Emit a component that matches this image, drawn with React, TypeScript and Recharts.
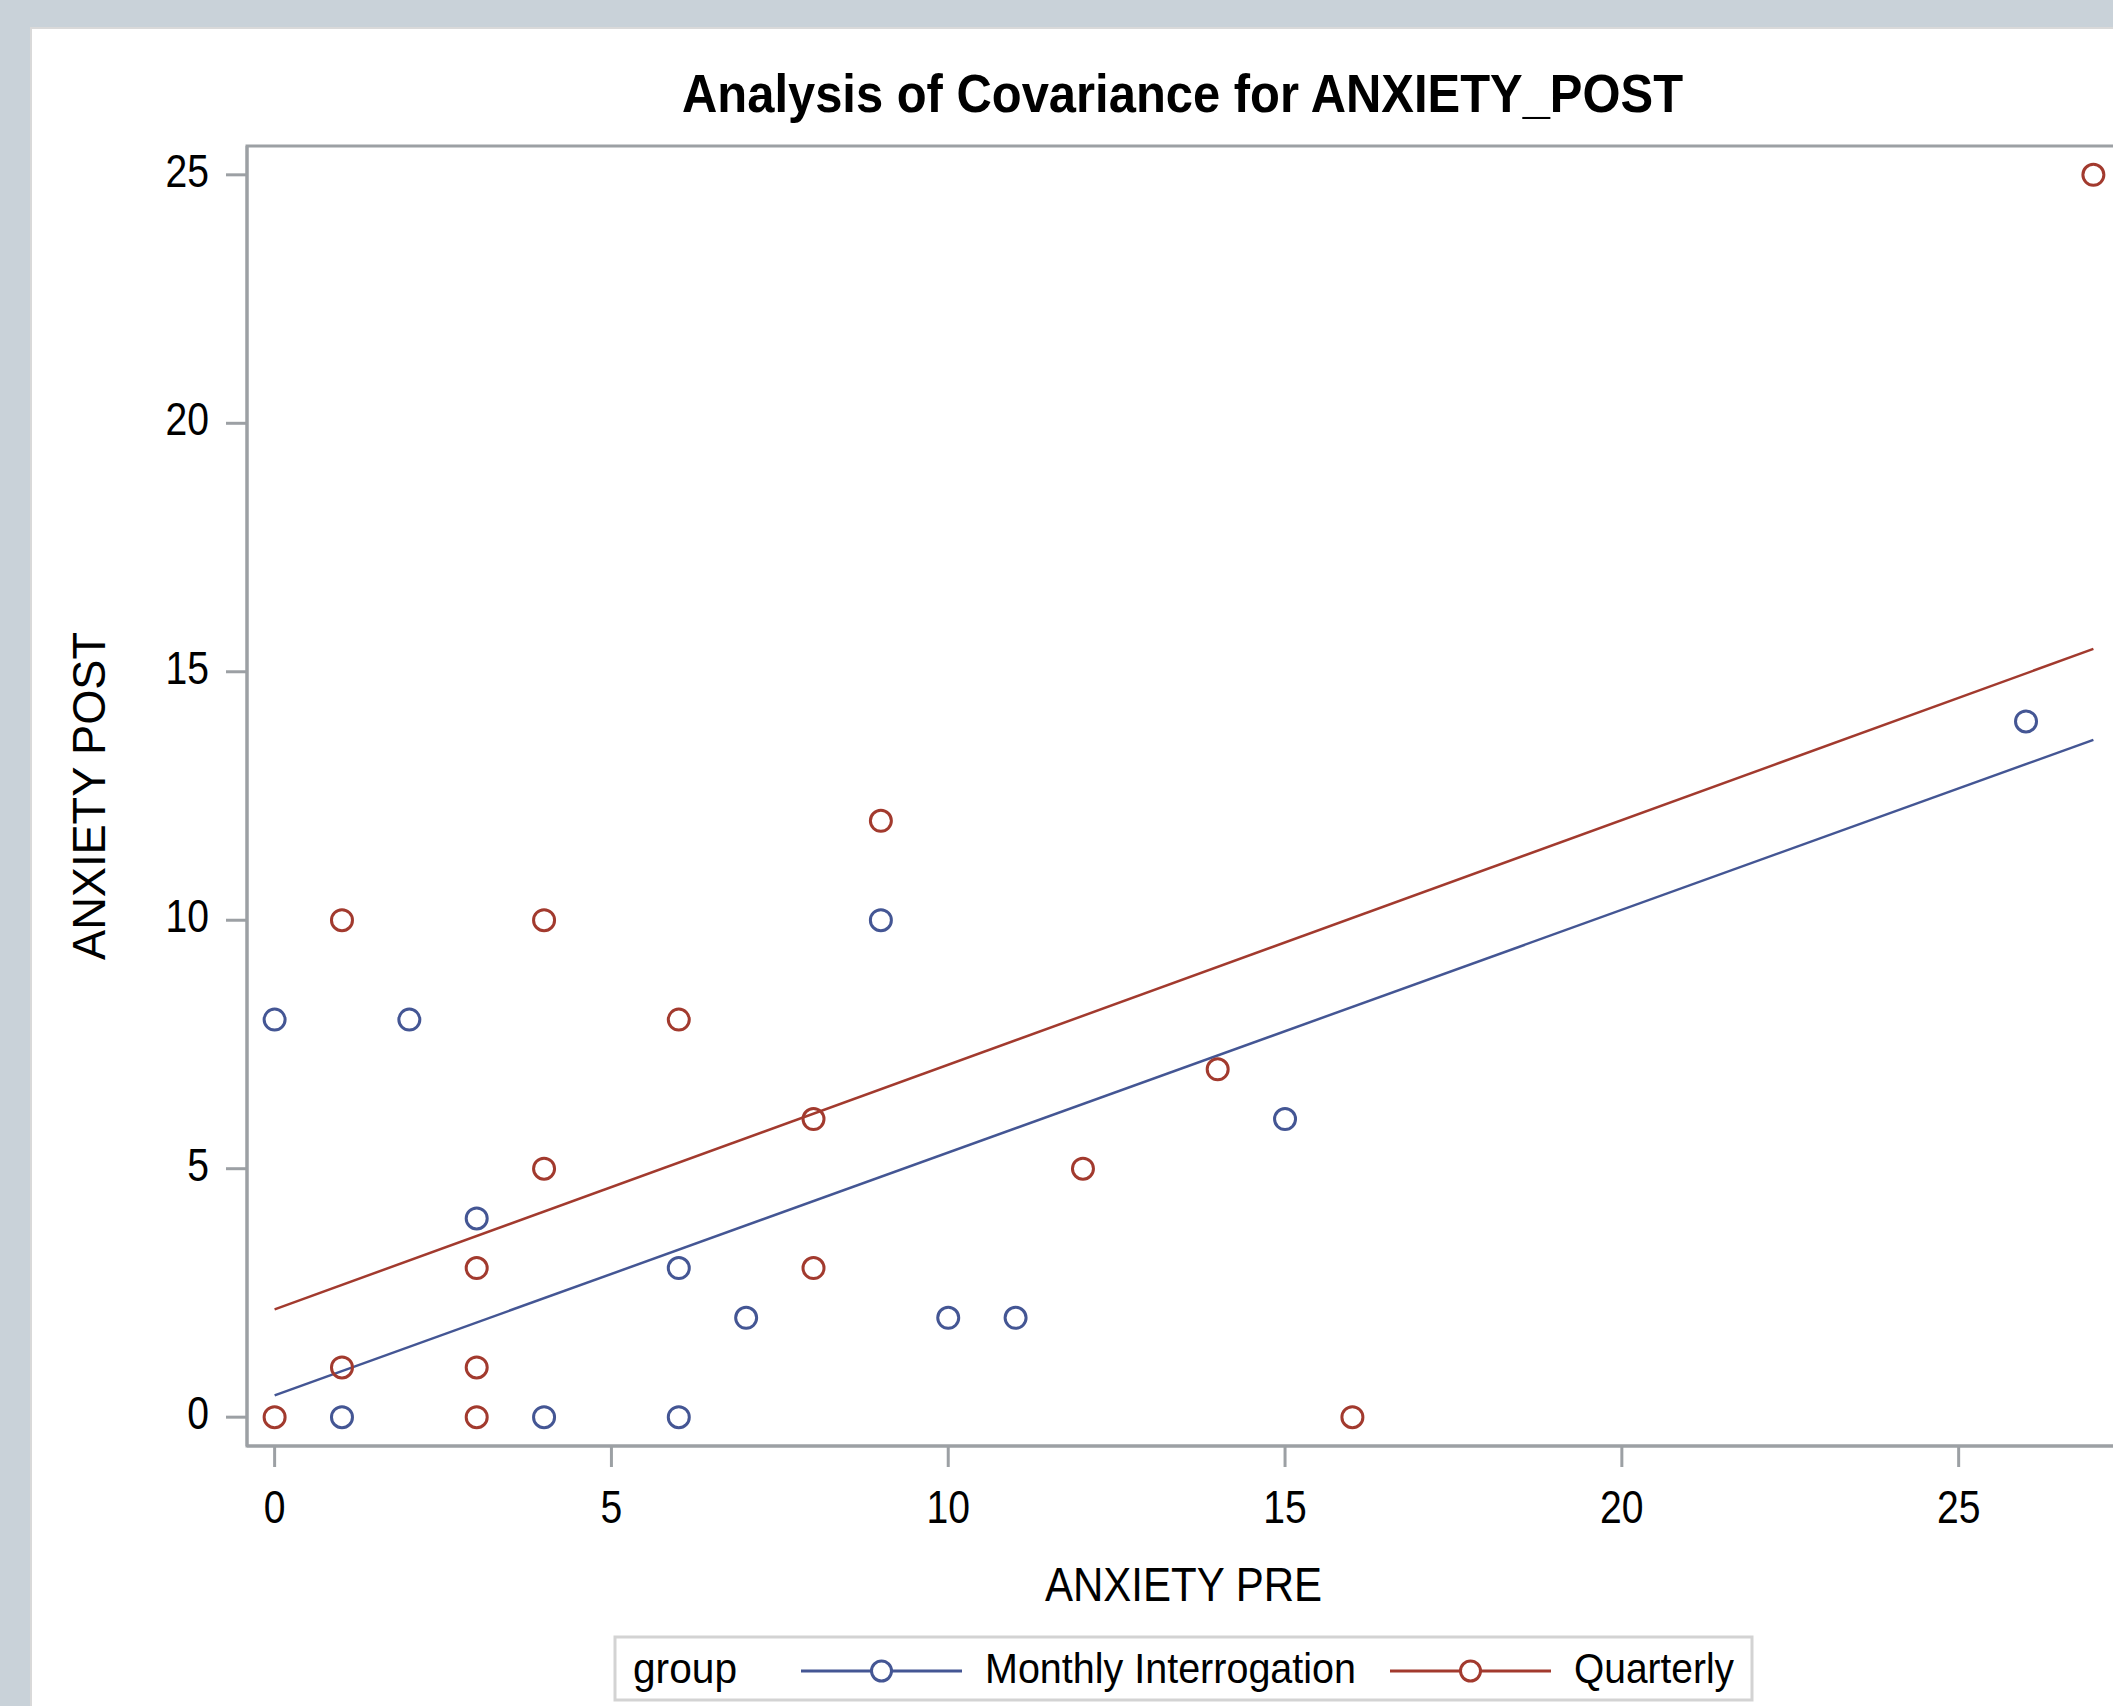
import { ReferenceArea, Scatter, ScatterChart, XAxis, YAxis } from "recharts";

// group labels, in legend order
const groups = ["Monthly Interrogation", "Quarterly"];
const groupColors = ["#445694", "#A23A2E"];

// observed points, ANXIETY PRE (x) vs ANXIETY POST (y)
const monthlyPre = [0, 2, 1, 3, 4, 6, 6, 7, 9, 10, 11, 15, 26];
const monthlyPost = [8, 8, 0, 4, 0, 3, 0, 2, 10, 2, 2, 6, 14];
const quarterlyPre = [0, 1, 1, 3, 3, 3, 4, 4, 6, 8, 8, 9, 12, 14, 16, 27];
const quarterlyPost = [0, 10, 1, 3, 1, 0, 10, 5, 8, 6, 3, 12, 5, 7, 0, 25];

// fitted ANCOVA lines, read at both ends of the x range
const fitPre = [0, 27];
const monthlyFit = [0.44, 13.63];
const quarterlyFit = [2.17, 15.46];

const xTicks = [0, 5, 10, 15, 20, 25];
const yTicks = [0, 5, 10, 15, 20, 25];
const xDomain = [-0.41, 27.41];
const yDomain = [-0.58, 25.58];

const FONT = '"Liberation Sans", Arial, Helvetica, sans-serif';
const AXIS = "#9ca0a4";

const zip = (xs: number[], ys: number[]) => xs.map((x, i) => ({ x, y: ys[i] }));

const series = [
  { name: groups[0], color: groupColors[0], points: zip(monthlyPre, monthlyPost), fit: zip(fitPre, monthlyFit) },
  { name: groups[1], color: groupColors[1], points: zip(quarterlyPre, quarterlyPost), fit: zip(fitPre, quarterlyFit) }
];

function openCircle(color: string) {
  return (props: any) => (
    <circle cx={props.cx} cy={props.cy} r={10.5} fill="none" stroke={color} strokeWidth={3} />
  );
}

const noShape = () => <g />;

function XTick({ x, y, payload }: any) {
  return (
    <g transform={`translate(${x},${y})`}>
      <text transform="scale(0.85,1)" textAnchor="middle" dy="0.71em" fontSize={46} fill="#000" fontFamily={FONT}>
        {payload.value}
      </text>
    </g>
  );
}

function YTick({ x, y, payload }: any) {
  return (
    <g transform={`translate(${x},${y})`}>
      <text transform="scale(0.85,1)" textAnchor="end" dy={12} fontSize={46} fill="#000" fontFamily={FONT}>
        {payload.value}
      </text>
    </g>
  );
}

function Overlay() {
  const legendLines = [
    { x1: 801, x2: 962, text: 985, width: 371 },
    { x1: 1390, x2: 1551, text: 1574, width: 160 }
  ];
  return (
    <svg width={2113} height={1706} style={{ position: "absolute", left: 0, top: 0 }} fontFamily={FONT}>
      <text x={682} y={112} fontSize={53} fontWeight="bold" textLength={1001} lengthAdjust="spacingAndGlyphs">
        Analysis of Covariance for ANXIETY_POST
      </text>
      <text x={1045} y={1601} fontSize={49} textLength={277} lengthAdjust="spacingAndGlyphs">
        ANXIETY PRE
      </text>
      <text
        transform="translate(105,960) rotate(-90)"
        x={0}
        y={0}
        fontSize={46}
        textLength={328}
        lengthAdjust="spacingAndGlyphs"
      >
        ANXIETY POST
      </text>

      <rect x={615} y={1637} width={1137} height={63} fill="#fff" stroke="#d3d3d3" strokeWidth={3} />
      <text x={633} y={1683} fontSize={43} textLength={104} lengthAdjust="spacingAndGlyphs">
        group
      </text>
      {series.map((s, i) => {
        const pos = legendLines[i];
        return (
          <g key={s.name}>
            <line x1={pos.x1} x2={pos.x2} y1={1671} y2={1671} stroke={s.color} strokeWidth={3} />
            <circle cx={(pos.x1 + pos.x2) / 2} cy={1671} r={10} fill="#fff" stroke={s.color} strokeWidth={3} />
            <text x={pos.text} y={1683} fontSize={43} textLength={pos.width} lengthAdjust="spacingAndGlyphs">
              {s.name}
            </text>
          </g>
        );
      })}
    </svg>
  );
}

export default function App() {
  return (
    <div
      style={{
        position: "absolute",
        left: 0,
        top: 0,
        width: 2113,
        height: 1706,
        overflow: "hidden",
        background: "#c9d2d9"
      }}
    >
      <div
        style={{
          position: "absolute",
          left: 30,
          top: 27,
          right: 0,
          bottom: 0,
          background: "#fff",
          borderTop: "2px solid #d9d9d9",
          borderLeft: "2px solid #d9d9d9"
        }}
      />
      <div style={{ position: "absolute", left: 0, top: 0 }}>
        <ScatterChart width={2200} height={1706} margin={{ top: 146, right: 79, bottom: 0, left: 0 }}>
          <XAxis
            type="number"
            dataKey="x"
            domain={xDomain}
            ticks={xTicks}
            allowDataOverflow
            height={260}
            tickSize={21}
            tickMargin={23}
            tick={<XTick />}
            axisLine={{ stroke: AXIS, strokeWidth: 3 }}
            tickLine={{ stroke: AXIS, strokeWidth: 3 }}
          />
          <YAxis
            type="number"
            dataKey="y"
            domain={yDomain}
            ticks={yTicks}
            allowDataOverflow
            width={247}
            tickSize={21}
            tickMargin={17}
            tick={<YTick />}
            axisLine={{ stroke: AXIS, strokeWidth: 3 }}
            tickLine={{ stroke: AXIS, strokeWidth: 3 }}
          />
          <ReferenceArea
            x1={xDomain[0]}
            x2={xDomain[1]}
            y1={yDomain[0]}
            y2={yDomain[1]}
            fill="none"
            fillOpacity={0}
            stroke={AXIS}
            strokeWidth={3}
          />
          {series.map((s) => (
            <Scatter
              key={`${s.name}-fit`}
              data={s.fit}
              line={{ stroke: s.color, strokeWidth: 2.5 }}
              shape={noShape}
              isAnimationActive={false}
            />
          ))}
          {series.map((s) => (
            <Scatter
              key={s.name}
              name={s.name}
              data={s.points}
              shape={openCircle(s.color)}
              isAnimationActive={false}
            />
          ))}
        </ScatterChart>
      </div>
      <Overlay />
    </div>
  );
}
